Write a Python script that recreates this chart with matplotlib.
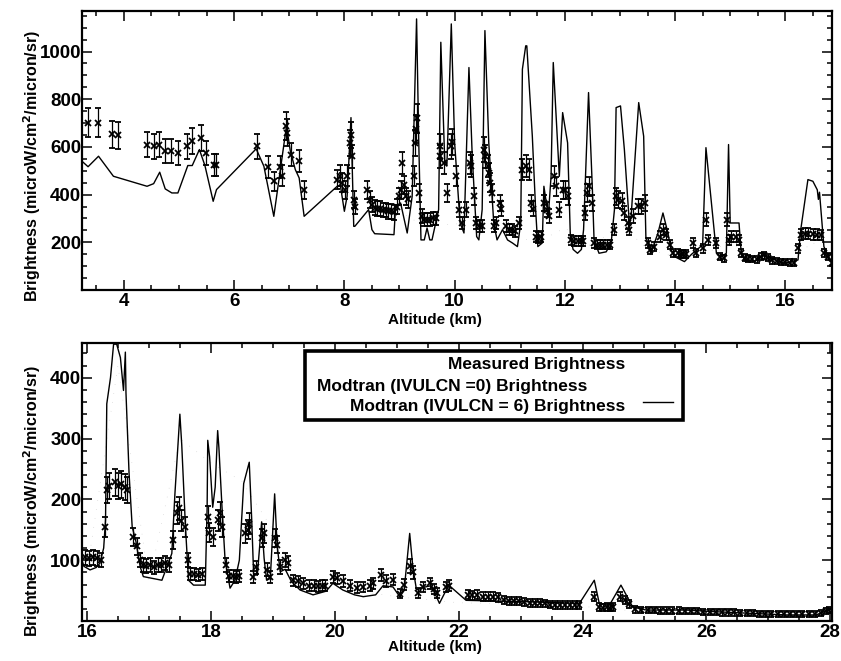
import matplotlib
matplotlib.use("Agg")
import matplotlib.pyplot as plt
from matplotlib.ticker import MultipleLocator, FixedLocator
from matplotlib.lines import Line2D
import numpy as np

plt.rcParams["font.family"] = ["Liberation Sans", "DejaVu Sans"]
plt.rcParams["font.weight"] = "bold"

# ---- upper panel: 3-17 km ----
top_model_alt = [3.24, 3.35, 3.54, 3.81, 4.42, 4.54, 4.65, 4.75, 4.87, 4.98, 5.16, 5.24, 5.37,
                 5.47, 5.62, 5.68, 6.40, 6.54, 6.72, 6.95, 7.02, 7.11, 7.18, 7.27, 7.87, 7.93,
                 8.00, 8.05, 8.12, 8.17, 8.19, 8.44, 8.50, 8.55, 8.90, 8.93, 9.02, 9.14, 9.23,
                 9.31, 9.35, 9.39, 9.45, 9.50, 9.55, 9.59, 9.71, 9.75, 9.82, 9.86, 9.94, 10.00,
                 10.10, 10.17, 10.26, 10.32, 10.40, 10.44, 10.50, 10.55, 10.62, 10.71, 10.77,
                 10.87, 10.96, 11.05, 11.14, 11.20, 11.23, 11.29, 11.31, 11.41, 11.47, 11.51,
                 11.59, 11.62, 11.70, 11.75, 11.79, 11.90, 11.96, 12.05, 12.10, 12.15, 12.23,
                 12.30, 12.34, 12.43, 12.50, 12.53, 12.62, 12.75, 12.84, 12.90, 12.93, 13.01,
                 13.08, 13.17, 13.20, 13.34, 13.43, 13.47, 13.56, 13.69, 13.78, 13.87, 13.93,
                 13.99, 14.17, 14.30, 14.50, 14.56, 14.75, 14.84, 14.93, 14.97, 15.00, 15.16,
                 15.20, 15.26, 15.45, 15.62, 15.81, 15.99, 16.23, 16.28, 16.41, 16.50, 16.58,
                 16.60, 16.62, 16.70, 16.81, 16.90]
top_model_val = [540, 517, 561, 477, 435, 446, 494, 424, 407, 407, 522, 522, 589,
                 522, 372, 421, 592, 519, 309, 688, 582, 505, 470, 309, 435, 435,
                 330, 393, 723, 267, 267, 337, 253, 236, 232, 351, 365, 239, 393,
                 1137, 617, 210, 210, 260, 210, 210, 337, 1039, 547, 520, 1116, 619,
                 281, 239, 933, 561, 224, 210, 337, 1088, 617, 281, 210,
                 253, 210, 197, 182, 281, 926, 1024, 1024, 645, 337, 182,
                 197, 435, 309, 477, 954, 477, 744, 617, 224, 170, 154,
                 170, 253, 828, 421, 210, 154, 160, 197, 337, 765, 772,
                 589, 281, 300, 786, 645, 224, 154, 239, 323, 239, 168,
                 140, 119, 150, 189, 597, 154, 140, 154, 610, 281, 281,
                 154, 126, 120, 150, 126, 112, 126, 253, 463, 456, 420,
                 380, 410, 182, 126, 98]

top_alt0 = [8.5, 9.0, 9.5, 10.0, 10.5, 11.0, 11.5, 12.0, 12.5, 13.0, 13.5, 14.0, 14.5,
            15.0, 15.5, 16.0, 16.5, 16.9]
top_val0 = [300, 330, 260, 280, 240, 230, 200, 260, 180, 280, 170, 140, 150,
            200, 120, 110, 200, 100]

top_meas_alt = [3.35, 3.53, 3.79, 3.90, 4.42, 4.54, 4.64, 4.74, 4.86, 4.98, 5.15, 5.24, 5.39,
                5.49, 5.63, 5.67, 6.42, 6.62, 6.72, 6.84, 6.86, 6.95, 6.96, 7.04, 7.18, 7.27,
                7.87, 7.92, 7.96, 8.02, 8.05, 8.11, 8.12, 8.14, 8.17, 8.19, 8.41, 8.46, 8.50,
                8.56, 8.60, 8.65, 8.70, 8.75, 8.80, 8.85, 8.90, 8.95, 8.99, 9.02, 9.05, 9.08,
                9.12, 9.16, 9.26, 9.29, 9.30, 9.31, 9.35, 9.41, 9.45, 9.50, 9.55, 9.60, 9.66,
                9.73, 9.74, 9.81, 9.87, 9.93, 9.96, 10.02, 10.08, 10.14, 10.20, 10.28, 10.30,
                10.35, 10.38, 10.44, 10.50, 10.53, 10.56, 10.60, 10.62, 10.65, 10.67, 10.71,
                10.76, 10.82, 10.85, 10.93, 10.99, 11.05, 11.10, 11.17, 11.23, 11.29, 11.35,
                11.39, 11.42, 11.47, 11.51, 11.56, 11.62, 11.67, 11.72, 11.80, 11.84, 11.90,
                11.96, 12.00, 12.05, 12.11, 12.17, 12.23, 12.29, 12.33, 12.36, 12.41, 12.44,
                12.49, 12.52, 12.58, 12.64, 12.70, 12.76, 12.82, 12.90, 12.93, 12.97, 13.03,
                13.08, 13.14, 13.17, 13.23, 13.32, 13.38, 13.45, 13.50, 13.55, 13.62, 13.72,
                13.78, 13.84, 13.90, 13.96, 14.05, 14.10, 14.15, 14.20, 14.32, 14.38, 14.50,
                14.56, 14.59, 14.75, 14.81, 14.89, 14.94, 14.97, 15.02, 15.11, 15.16, 15.19,
                15.26, 15.32, 15.40, 15.48, 15.56, 15.62, 15.68, 15.76, 15.85, 15.92, 16.00,
                16.08, 16.15, 16.23, 16.29, 16.35, 16.42, 16.50, 16.58, 16.65, 16.70, 16.77,
                16.85]
top_meas_val = [702, 702, 653, 648, 610, 603, 610, 582, 582, 575, 603, 624, 638,
                575, 526, 526, 603, 517, 456, 517, 480, 688, 660, 568, 540, 421,
                463, 480, 449, 421, 480, 617, 650, 560, 379, 350, 421, 379, 358,
                345, 340, 340, 335, 335, 330, 330, 325, 350, 393, 421, 533, 440,
                393, 380, 477, 617, 674, 720, 407, 309, 295, 295, 295, 300, 300,
                603, 561, 533, 407, 603, 620, 477, 337, 281, 337, 533, 519,
                393, 281, 267, 267, 589, 560, 519, 491, 449, 407, 267,
                281, 365, 340, 267, 253, 253, 246, 281, 505, 519, 505,
                365, 340, 224, 220, 224, 365, 337, 309, 477, 435, 337,
                421, 420, 393, 210, 205, 205, 205, 205, 323, 407, 435,
                365, 197, 190, 190, 190, 190, 190, 253, 393, 379, 372,
                323, 281, 253, 309, 351, 351, 365, 197, 168, 182, 224,
                253, 232, 189, 154, 154, 150, 150, 152, 197, 154, 175,
                295, 210, 197, 140, 133, 295, 210, 224, 224, 210, 154,
                135, 132, 130, 128, 140, 145, 135, 125, 122, 118, 118,
                115, 115, 175, 232, 236, 236, 234, 232, 230, 154, 140,
                112]

# ---- lower panel: 16-28 km ----
bot_model_alt = [15.92, 15.95, 16.05, 16.15, 16.21, 16.27, 16.30, 16.32, 16.38, 16.43, 16.48,
                 16.54, 16.59, 16.62, 16.63, 16.68, 16.73, 16.79, 16.86, 16.91, 17.21, 17.29,
                 17.37, 17.42, 17.50, 17.53, 17.59, 17.64, 17.72, 17.91, 17.94, 17.95, 17.98,
                 18.03, 18.07, 18.11, 18.13, 18.18, 18.23, 18.31, 18.39, 18.46, 18.53, 18.62,
                 18.66, 18.69, 18.75, 18.82, 18.86, 18.90, 18.96, 19.03, 19.07, 19.12, 19.20,
                 19.30, 19.44, 19.65, 19.86, 19.97, 20.13, 20.32, 20.46, 20.66, 20.78, 20.94,
                 21.05, 21.12, 21.21, 21.26, 21.32, 21.42, 21.55, 21.62, 21.69, 21.84, 22.12,
                 23.00, 23.95, 24.19, 24.27, 24.44, 24.62, 24.81, 25.03, 25.67, 26.20, 27.29,
                 27.77, 28.03]
bot_model_val = [100, 90, 84, 88, 95, 120, 166, 357, 400, 455, 455,
                 433, 379, 442, 375, 242, 155, 131, 89, 73, 67, 89,
                 111, 209, 340, 290, 155, 67, 59, 59, 187, 297, 270,
                 187, 220, 313, 285, 187, 100, 54, 67, 100, 226, 261,
                 166, 78, 75, 163, 103, 67, 70, 209, 124, 81, 85,
                 65, 51, 43, 49, 62, 51, 43, 40, 43, 58, 56,
                 40, 50, 144, 89, 51, 55, 58, 45, 29, 59, 34,
                 32, 29, 67, 29, 27, 59, 23, 18, 18, 15, 10,
                 10, 21]

bot_alt0 = [16.0, 16.5, 17.0, 17.5, 18.0, 18.5, 19.0, 19.5, 20.0, 21.0, 22.0, 23.0, 24.0,
            25.0, 26.0, 27.0, 28.0]
bot_val0 = [80, 420, 64, 300, 260, 230, 150, 45, 55, 40, 30, 28, 24, 15, 12, 9, 18]

bot_meas_alt = [15.97, 16.03, 16.10, 16.16, 16.22, 16.29, 16.33, 16.36, 16.45, 16.50, 16.55,
                16.61, 16.64, 16.75, 16.80, 16.85, 16.90, 16.96, 17.02, 17.08, 17.14, 17.20,
                17.26, 17.32, 17.39, 17.45, 17.48, 17.52, 17.58, 17.63, 17.67, 17.73, 17.79,
                17.85, 17.96, 17.97, 18.04, 18.12, 18.14, 18.18, 18.25, 18.30, 18.36, 18.41,
                18.45, 18.55, 18.60, 18.62, 18.68, 18.73, 18.82, 18.85, 18.90, 18.95, 19.03,
                19.06, 19.11, 19.19, 19.24, 19.33, 19.40, 19.49, 19.59, 19.66, 19.73, 19.80,
                19.85, 19.97, 20.03, 20.14, 20.25, 20.36, 20.46, 20.57, 20.62, 20.75, 20.83,
                20.94, 21.05, 21.12, 21.21, 21.27, 21.34, 21.42, 21.53, 21.61, 21.65, 21.80,
                21.85, 22.15, 22.22, 22.30, 22.40, 22.48, 22.56, 22.64, 22.74, 22.82, 22.90,
                22.98, 23.06, 23.16, 23.24, 23.32, 23.40, 23.48, 23.56, 23.64, 23.72, 23.80,
                23.88, 23.95, 24.19, 24.27, 24.33, 24.39, 24.45, 24.50, 24.60, 24.68, 24.75,
                24.85, 24.95, 25.05, 25.15, 25.25, 25.35, 25.45, 25.55, 25.65, 25.75, 25.85,
                25.95, 26.05, 26.15, 26.25, 26.35, 26.45, 26.55, 26.65, 26.75, 26.85, 26.95,
                27.05, 27.15, 27.25, 27.35, 27.45, 27.55, 27.65, 27.75, 27.85, 27.93, 27.98]
bot_meas_val = [105, 103, 105, 103, 100, 155, 215, 222, 228, 222, 225,
                220, 215, 138, 123, 100, 92, 90, 92, 88, 92, 92,
                95, 92, 133, 177, 185, 165, 155, 100, 77, 77, 76,
                77, 171, 145, 138, 166, 177, 155, 92, 74, 74, 73,
                74, 144, 150, 160, 73, 88, 136, 144, 84, 72, 136,
                125, 89, 100, 95, 67, 65, 62, 58, 58, 57, 58,
                58, 73, 70, 66, 58, 55, 56, 58, 62, 75, 66,
                68, 45, 60, 90, 80, 46, 56, 62, 53, 46, 56,
                58, 43, 42, 43, 40, 40, 40, 39, 34, 33, 33,
                33, 32, 30, 30, 30, 29, 27, 26, 26, 26, 26,
                26, 26, 40, 23, 22, 23, 22, 23, 40, 34, 28,
                19, 18, 18, 18, 17, 17, 17, 17, 16, 16, 16,
                15, 15, 15, 14, 14, 14, 13, 13, 13, 12, 12,
                12, 12, 11, 11, 11, 11, 11, 12, 13, 16, 18]

err_frac = 0.08
err_floor = 4.0


def style_axis(ax, xmajor, ymajor, yminor):
    ax.xaxis.set_major_locator(MultipleLocator(xmajor))
    ax.xaxis.set_minor_locator(MultipleLocator(0.5))
    ax.yaxis.set_major_locator(FixedLocator(ymajor))
    ax.yaxis.set_minor_locator(MultipleLocator(yminor))
    ax.tick_params(which="both", direction="in", top=True, right=True, width=1.1)
    ax.tick_params(which="major", length=7, labelsize=13.5)
    ax.tick_params(axis="x", which="major", pad=2)
    ax.tick_params(axis="y", which="major", pad=0.5)
    ax.tick_params(which="minor", length=3.5)
    for s in ax.spines.values():
        s.set_linewidth(1.6)
    for lab in ax.get_xticklabels() + ax.get_yticklabels():
        lab.set_fontweight("bold")


def draw_panel(ax, malt, mval, alt0, val0, xalt, xval):
    ax.plot(alt0, val0, color="0.8", lw=0.5, linestyle=(0, (1, 12)))
    ax.plot(malt, mval, color="black", lw=1.0)
    xval = np.asarray(xval, dtype=float)
    err = err_frac * xval + err_floor
    ax.errorbar(xalt, xval, yerr=err, fmt="x", color="black", ms=5, mew=1.3,
                elinewidth=0.9, capsize=2.5, capthick=0.9)


fig = plt.figure(figsize=(8.41, 6.61), dpi=100)
ax1 = fig.add_axes([0.0975, 0.5613, 0.892, 0.422])
ax2 = fig.add_axes([0.0975, 0.0605, 0.892, 0.4206])

draw_panel(ax1, top_model_alt, top_model_val, top_alt0, top_val0, top_meas_alt, top_meas_val)
ax1.set_xlim(3.24, 16.85)
ax1.set_ylim(0, 1170)
style_axis(ax1, 2, [200, 400, 600, 800, 1000], 50)

draw_panel(ax2, bot_model_alt, bot_model_val, bot_alt0, bot_val0, bot_meas_alt, bot_meas_val)
ax2.set_xlim(15.92, 28.03)
ax2.set_ylim(0, 457)
style_axis(ax2, 2, [100, 200, 300, 400], 20)

ylab = "Brightness (microW/cm$^{\\mathbf{2}}$/micron/sr)"
for ax, yl in ((ax1, 0.445), (ax2, 0.43)):
    ax.set_xlabel("Altitude (km)", fontsize=11, fontweight="bold")
    ax.set_ylabel(ylab, fontsize=11.5, fontweight="bold")
    ax.yaxis.set_label_coords(-0.052, yl)
ax1.xaxis.set_label_coords(0.47, -0.083)
ax2.xaxis.set_label_coords(0.47, -0.068)

# legend box drawn by hand, IDL style
box = plt.Rectangle((0.297, 0.723), 0.504, 0.248, transform=ax2.transAxes,
                    facecolor="white", edgecolor="black", lw=2.6, zorder=5)
ax2.add_patch(box)
ax2.text(0.724, 0.924, "Measured Brightness", transform=ax2.transAxes, ha="right",
         va="center", fontsize=12.5, fontweight="bold", zorder=6)
ax2.text(0.313, 0.842, "Modtran (IVULCN =0) Brightness", transform=ax2.transAxes,
         ha="left", va="center", fontsize=12.5, fontweight="bold", zorder=6)
ax2.text(0.724, 0.772, "Modtran (IVULCN = 6) Brightness", transform=ax2.transAxes,
         ha="right", va="center", fontsize=12.5, fontweight="bold", zorder=6)
ax2.add_line(Line2D([0.748, 0.788], [0.786, 0.786], transform=ax2.transAxes,
                    color="black", lw=1.0, zorder=6))

fig.savefig("out.png", dpi=100)
